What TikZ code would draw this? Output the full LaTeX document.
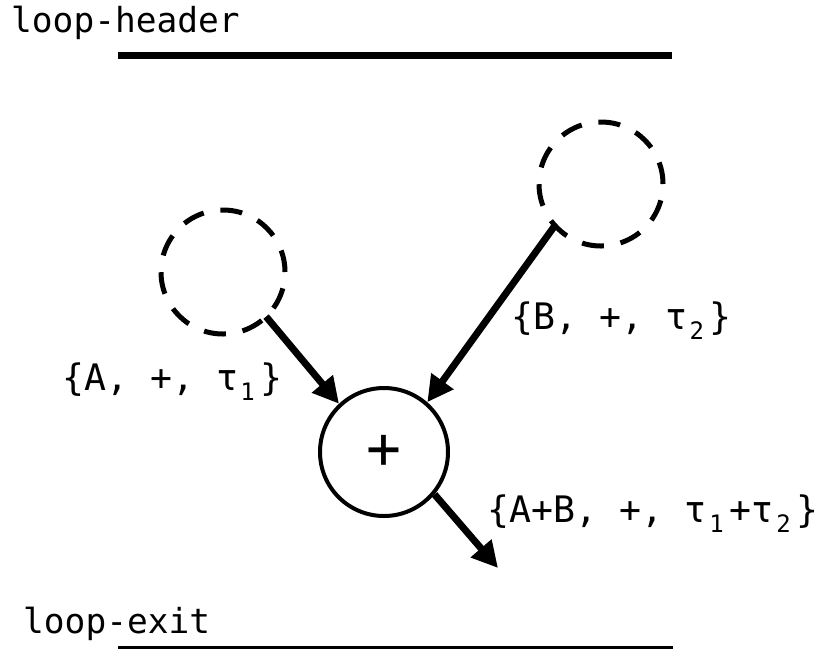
\documentclass[tikz,border=0pt]{standalone}
\usepackage{fontspec}
\setmonofont{DejaVu Sans Mono}
\usetikzlibrary{arrows.meta}
\newcommand\subsc[1]{\hspace{2.5pt}\raisebox{-10pt}{\fontsize{24}{24}\selectfont #1}\hspace{6pt}}
\begin{document}
\begin{tikzpicture}[x=1pt,y=-1pt,
  looplbl/.style={font=\ttfamily\fontsize{34.5}{38}\selectfont, inner sep=0pt, anchor=base west},
  lbl/.style={font=\ttfamily\fontsize{36.5}{40}\selectfont, inner sep=0pt, anchor=base west},
  ghost/.style={circle, draw, line width=5pt, dash pattern=on 22pt off 17pt, minimum size=124pt, inner sep=0pt, outer sep=0pt},
  opnode/.style={circle, draw, line width=4pt, minimum size=128pt, inner sep=0pt, font=\ttfamily\fontsize{58}{60}\selectfont},
  flow/.style={line width=7pt, -{Triangle[length=26pt,width=26pt]}},
  bar/.style={line width=7.5pt},
  thinbar/.style={line width=2.7pt}]
\useasboundingbox (0,0) rectangle (825,649);

\node[looplbl] (hdr) at (11,32) {loop-header};
\coordinate (h1) at (118,55.5);
\coordinate (h2) at (672,55.5);
\draw[bar] (h1) -- (h2);

\node[looplbl] (ext) at (23,633) {loop-exit};
\coordinate (e1) at (118,647.5);
\coordinate (e2) at (673,647.5);
\draw[thinbar] (e1) -- (e2);

\node[ghost] (L) at (223,272) {};
\node[ghost] (R) at (601,184) {};
\node[opnode] (P) at (384,452) {+};
\coordinate (out) at (498,568);

\draw[flow] (L.-46) -- (P.133);
\draw[flow] (R.-138) -- (P.49);
\draw[flow] (P.-40) -- (out);

\node[lbl] (la) at (62,390) {\{A, +, τ\subsc{1}\}};
\node[lbl] (lb) at (511,329) {\{B, +, τ\subsc{2}\}};
\node[lbl] (lc) at (487,522) {\{A+B, +, τ\subsc{1}+τ\subsc{2}\}};
\end{tikzpicture}
\end{document}
